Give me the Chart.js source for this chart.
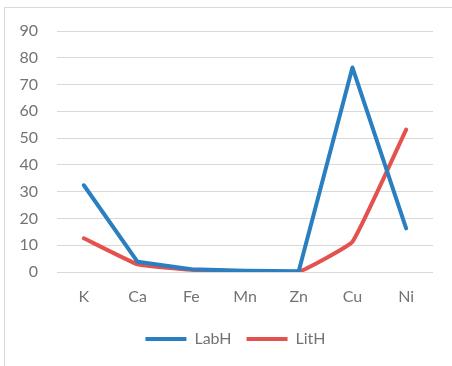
<!DOCTYPE html>
<html>
<head>
<meta charset="utf-8">
<script src="https://cdn.jsdelivr.net/npm/chart.js@4/dist/chart.umd.min.js"></script>
<style>
  html, body { margin: 0; padding: 0; background: #fff; }
  #wrap { position: relative; width: 452px; height: 366px; overflow: hidden; }
  #frame { position: absolute; left: 4px; top: 7px; width: 460px; height: 370px;
           border-left: 1px solid #d9d9d9; border-top: 1px solid #d9d9d9; box-sizing: border-box; }
  canvas { position: absolute; left: 0; top: 0; }
</style>
</head>
<body>
<div id="wrap">
  <div id="frame"></div>
  <canvas id="chart" width="452" height="366"></canvas>
</div>
<script>
// Element categories along the x axis
const elements = ['K', 'Ca', 'Fe', 'Mn', 'Zn', 'Cu', 'Ni'];

// Series values per element
const labH = [32.4, 3.8, 1.0, 0.5, 0.3, 76.4, 16.3];
const litH = [12.6, 2.9, 0.8, 0.2, 0.1, 11.3, 53.2];

// Y axis range and tick step
const yMin = 0;
const yMax = 90;
const yStep = 10;

const textColor = '#737373';
const fontFamily = 'Lato, "Open Sans", sans-serif';

// Nudges the legend row to the right so it sits centred under the whole frame
const legendShift = {
  id: 'legendShift',
  afterUpdate(chart) {
    const lg = chart.legend;
    if (lg) { lg.left += 19; lg.right += 19; }
  }
};

new Chart(document.getElementById('chart'), {
  type: 'line',
  data: {
    labels: elements,
    datasets: [
      {
        label: 'LabH',
        data: labH,
        borderColor: '#2a7fc1',
        backgroundColor: '#2a7fc1',
        borderWidth: 4,
        borderCapStyle: 'round',
        borderJoinStyle: 'round',
        pointRadius: 0,
        tension: 0
      },
      {
        label: 'LitH',
        data: litH,
        borderColor: '#e3524f',
        backgroundColor: '#e3524f',
        borderWidth: 4,
        borderCapStyle: 'round',
        borderJoinStyle: 'round',
        pointRadius: 0,
        tension: 0.1
      }
    ]
  },
  plugins: [legendShift],
  options: {
    responsive: false,
    animation: false,
    devicePixelRatio: 1,
    layout: { padding: { top: 31, right: 19, bottom: 9, left: 0 } },
    scales: {
      x: {
        offset: true,
        grid: { display: false, drawTicks: false },
        border: { display: false },
        ticks: { color: textColor, font: { family: fontFamily, size: 16 }, padding: 15 },
        afterFit(scale) { scale.height = 44; }
      },
      y: {
        min: yMin,
        max: yMax,
        grid: { color: '#d9d9d9', lineWidth: 1, drawTicks: false },
        border: { display: false },
        ticks: { stepSize: yStep, color: textColor, font: { family: fontFamily, size: 16 }, padding: 19 },
        afterFit(scale) { scale.width = 57; }
      }
    },
    plugins: {
      legend: {
        position: 'bottom',
        labels: {
          usePointStyle: true,
          pointStyle: 'line',
          pointStyleWidth: 41,
          boxHeight: 16,
          padding: 15,
          color: textColor,
          font: { family: fontFamily, size: 16 }
        }
      },
      tooltip: { enabled: false }
    }
  }
});
</script>
</body>
</html>
